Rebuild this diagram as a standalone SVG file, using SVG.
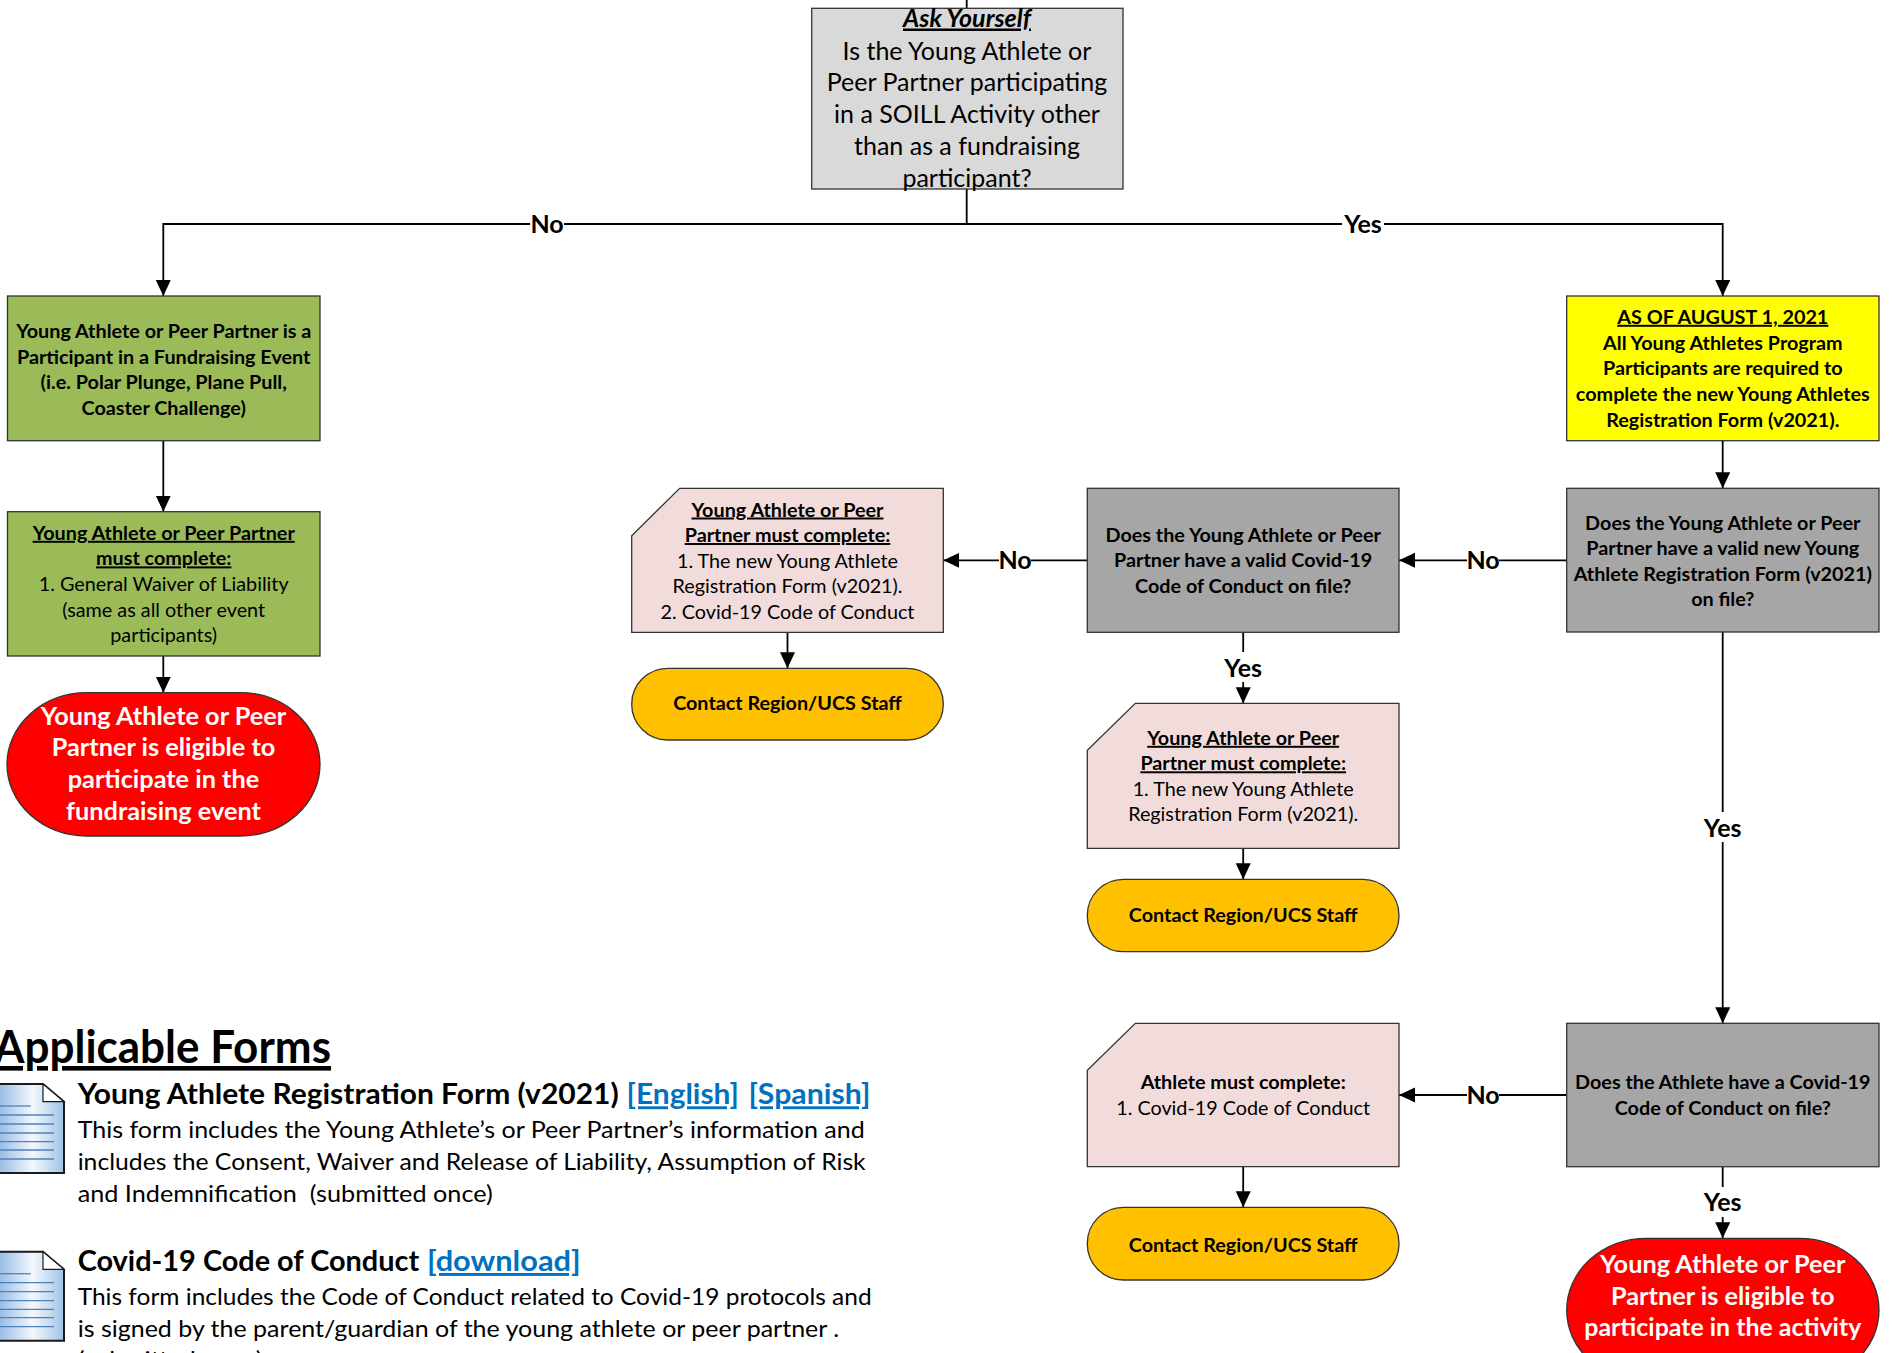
<svg xmlns="http://www.w3.org/2000/svg" width="1893" height="1353" viewBox="0 0 1893 1353">
<defs>
<style>
text{font-family:Lato,"Open Sans","Liberation Sans",sans-serif;fill:#000;text-anchor:middle}
.box{stroke:#333;stroke-width:1.3}
.b{font-weight:bold;font-size:19.8px}
.r{font-size:19.8px}
.u{text-decoration:underline}
.q{font-size:25px}
.w{fill:#fff;font-weight:bold;font-size:25.3px}
.lbl{font-weight:bold;font-size:25px}
.ln{stroke:#000;stroke-width:1.8;fill:none}
.ar{marker-end:url(#ah)}
.lb{fill:#fff}
.fl{text-anchor:start}
.link{fill:#0070C0;text-decoration:underline;font-weight:bold}
.il{stroke:#4F81BD;stroke-width:1.3}
</style>
<marker id="ah" markerUnits="userSpaceOnUse" markerWidth="17" markerHeight="16" refX="16" refY="7.5" orient="auto">
<path d="M0,0 L16,7.5 L0,15 Z" fill="#000"/>
</marker>
<linearGradient id="ig" x1="0" y1="0" x2="1" y2="0">
<stop offset="0" stop-color="#8DB4E2"/>
<stop offset="0.55" stop-color="#F4F8FC"/>
<stop offset="1" stop-color="#9DC3E6"/>
</linearGradient>
</defs>

<g id="connectors">
<line class="ln" x1="966.7" y1="0" x2="966.7" y2="8.3"/>
<line class="ln" x1="966.7" y1="189" x2="966.7" y2="224"/>
<line class="ln" x1="163.3" y1="224" x2="1722.7" y2="224"/>
<line class="ln ar" x1="163.3" y1="223" x2="163.3" y2="296"/>
<line class="ln ar" x1="1722.7" y1="223" x2="1722.7" y2="296"/>
<line class="ln ar" x1="163.3" y1="440.7" x2="163.3" y2="511.7"/>
<line class="ln ar" x1="163.3" y1="656" x2="163.3" y2="692.7"/>
<line class="ln ar" x1="1722.7" y1="440.7" x2="1722.7" y2="488.3"/>
<line class="ln ar" x1="1566.7" y1="560.3" x2="1399" y2="560.3"/>
<line class="ln ar" x1="1087.3" y1="560.3" x2="943.3" y2="560.3"/>
<line class="ln ar" x1="1243.2" y1="632.3" x2="1243.2" y2="703.3"/>
<line class="ln ar" x1="787.5" y1="632.3" x2="787.5" y2="668.3"/>
<line class="ln ar" x1="1243.2" y1="848.3" x2="1243.2" y2="879.3"/>
<line class="ln ar" x1="1722.7" y1="632" x2="1722.7" y2="1023.3"/>
<line class="ln ar" x1="1566.7" y1="1095" x2="1399" y2="1095"/>
<line class="ln ar" x1="1243.2" y1="1166.7" x2="1243.2" y2="1207.3"/>
<line class="ln ar" x1="1722.7" y1="1166.7" x2="1722.7" y2="1238.3"/>
<g id="labels">
<rect class="lb" x="530" y="210" width="34" height="28"/>
<text class="lbl" x="547" y="232.5">No</text>
<rect class="lb" x="1342" y="210" width="42" height="28"/>
<text class="lbl" x="1363" y="232.5">Yes</text>
<rect class="lb" x="1467" y="546" width="32" height="28"/>
<text class="lbl" x="1483" y="569">No</text>
<rect class="lb" x="999" y="546" width="32" height="28"/>
<text class="lbl" x="1015" y="569">No</text>
<rect class="lb" x="1222" y="652" width="42" height="30"/>
<text class="lbl" x="1243.2" y="676.5">Yes</text>
<rect class="lb" x="1701" y="812" width="44" height="30"/>
<text class="lbl" x="1722.7" y="836.5">Yes</text>
<rect class="lb" x="1467" y="1081" width="32" height="28"/>
<text class="lbl" x="1483" y="1103.5">No</text>
<rect class="lb" x="1701" y="1187" width="44" height="30"/>
<text class="lbl" x="1722.7" y="1211">Yes</text>
</g>
</g>

<g id="q-top">
<rect class="box" x="811.7" y="8.3" width="311.3" height="180.7" fill="#D9D9D9"/>
<text class="q u" x="967" y="26.5" font-weight="bold" font-style="italic">Ask Yourself</text>
<text class="q" x="967" y="59.7">Is the Young Athlete or</text>
<text class="q" x="967" y="91.3">Peer Partner participating</text>
<text class="q" x="967" y="123">in a SOILL Activity other</text>
<text class="q" x="967" y="154.7">than as a fundraising</text>
<text class="q" x="967" y="187">participant?</text>
</g>

<g id="fundraising">
<rect class="box" x="7.5" y="296" width="312.5" height="144.7" fill="#9BBB59"/>
<text class="b" x="163.7" y="338">Young Athlete or Peer Partner is a</text>
<text class="b" x="163.7" y="363.6">Participant in a Fundraising Event</text>
<text class="b" x="163.7" y="389.2">(i.e. Polar Plunge, Plane Pull,</text>
<text class="b" x="163.7" y="414.8">Coaster Challenge)</text>
</g>

<g id="waiver">
<rect class="box" x="7.5" y="511.7" width="312.5" height="144.3" fill="#9BBB59"/>
<text class="b u" x="163.7" y="539.8">Young Athlete or Peer Partner</text>
<text class="b u" x="163.7" y="565.4">must complete:</text>
<text class="r" x="163.7" y="591">1. General Waiver of Liability</text>
<text class="r" x="163.7" y="616.6">(same as all other event</text>
<text class="r" x="163.7" y="642.2">participants)</text>
</g>

<g id="eligible-fundraising">
<rect class="box" x="7" y="692.7" width="313" height="143.3" rx="80" ry="71.6" fill="#FF0000"/>
<text class="w" x="163.5" y="724.7">Young Athlete or Peer</text>
<text class="w" x="163.5" y="756.3">Partner is eligible to</text>
<text class="w" x="163.5" y="788">participate in the</text>
<text class="w" x="163.5" y="819.7">fundraising event</text>
</g>

<g id="august">
<rect class="box" x="1566.7" y="296" width="312.3" height="144.7" fill="#FFFF00"/>
<text class="b u" x="1722.8" y="323.8">AS OF AUGUST 1, 2021</text>
<text class="b" x="1722.8" y="349.5">All Young Athletes Program</text>
<text class="b" x="1722.8" y="375.2">Participants are required to</text>
<text class="b" x="1722.8" y="400.9">complete the new Young Athletes</text>
<text class="b" x="1722.8" y="426.6">Registration Form (v2021).</text>
</g>

<g id="q-registration">
<rect class="box" x="1566.7" y="488.3" width="312.3" height="143.7" fill="#A6A6A6"/>
<text class="b" x="1722.8" y="529.8">Does the Young Athlete or Peer</text>
<text class="b" x="1722.8" y="555.2">Partner have a valid new Young</text>
<text class="b" x="1722.8" y="580.6">Athlete Registration Form (v2021)</text>
<text class="b" x="1722.8" y="606">on file?</text>
</g>

<g id="q-covid-1">
<rect class="box" x="1087.3" y="488.3" width="311.7" height="144" fill="#A6A6A6"/>
<text class="b" x="1243.2" y="541.5">Does the Young Athlete or Peer</text>
<text class="b" x="1243.2" y="567.2">Partner have a valid Covid-19</text>
<text class="b" x="1243.2" y="592.9">Code of Conduct on file?</text>
</g>

<g id="complete-both">
<path class="box" d="M679.7,488.3 L943.3,488.3 L943.3,632.3 L631.7,632.3 L631.7,535.7 Z" fill="#F2DCDB"/>
<text class="b u" x="787.5" y="516.5">Young Athlete or Peer</text>
<text class="b u" x="787.5" y="542">Partner must complete:</text>
<text class="r" x="787.5" y="567.5">1. The new Young Athlete</text>
<text class="r" x="787.5" y="593">Registration Form (v2021).</text>
<text class="r" x="787.5" y="618.5">2. Covid-19 Code of Conduct</text>
</g>

<g id="contact-1">
<rect class="box" x="631.7" y="668.3" width="311.6" height="71.7" rx="36" fill="#FFC000"/>
<text class="b" x="787.5" y="710">Contact Region/UCS Staff</text>
</g>

<g id="complete-registration">
<path class="box" d="M1135.3,703.3 L1399,703.3 L1399,848.3 L1087.3,848.3 L1087.3,750.3 Z" fill="#F2DCDB"/>
<text class="b u" x="1243.2" y="744.8">Young Athlete or Peer</text>
<text class="b u" x="1243.2" y="770.3">Partner must complete:</text>
<text class="r" x="1243.2" y="795.8">1. The new Young Athlete</text>
<text class="r" x="1243.2" y="821.3">Registration Form (v2021).</text>
</g>

<g id="contact-2">
<rect class="box" x="1087.3" y="879.3" width="311.7" height="72.4" rx="36" fill="#FFC000"/>
<text class="b" x="1243.2" y="921.5">Contact Region/UCS Staff</text>
</g>

<g id="q-covid-2">
<rect class="box" x="1566.7" y="1023.3" width="312.3" height="143.4" fill="#A6A6A6"/>
<text class="b" x="1722.8" y="1089.2">Does the Athlete have a Covid-19</text>
<text class="b" x="1722.8" y="1114.8">Code of Conduct on file?</text>
</g>

<g id="complete-covid">
<path class="box" d="M1135.3,1023.3 L1399,1023.3 L1399,1166.7 L1087.3,1166.7 L1087.3,1070.3 Z" fill="#F2DCDB"/>
<text class="b" x="1243.2" y="1089.2">Athlete must complete:</text>
<text class="r" x="1243.2" y="1114.8">1. Covid-19 Code of Conduct</text>
</g>

<g id="contact-3">
<rect class="box" x="1087.3" y="1207.3" width="311.7" height="72.7" rx="36" fill="#FFC000"/>
<text class="b" x="1243.2" y="1251.5">Contact Region/UCS Staff</text>
</g>

<g id="eligible-activity">
<rect class="box" x="1566.7" y="1238.3" width="312.3" height="143.7" rx="80" ry="71.8" fill="#FF0000"/>
<text class="w" x="1722.8" y="1273">Young Athlete or Peer</text>
<text class="w" x="1722.8" y="1304.7">Partner is eligible to</text>
<text class="w" x="1722.8" y="1336.3" textLength="277" lengthAdjust="spacingAndGlyphs">participate in the activity</text>
</g>

<g id="applicable-forms">
<text class="fl u" x="-6" y="1063" font-size="46" font-weight="bold" textLength="337" lengthAdjust="spacingAndGlyphs">Applicable Forms</text>
<g id="icon-1">
<path d="M-5,1084 L43,1084 L64,1101.7 L64,1173 L-5,1173 Z" fill="url(#ig)" stroke="#1a1a1a" stroke-width="2"/>
<path d="M43,1084 L43,1101.7 L64,1101.7 Z" fill="#fff" stroke="#1a1a1a" stroke-width="1.2"/>
<line class="il" x1="0" y1="1106" x2="30.7" y2="1106"/>
<line class="il" x1="0" y1="1115" x2="54" y2="1115"/>
<line class="il" x1="0" y1="1124" x2="54" y2="1124"/>
<line class="il" x1="0" y1="1133" x2="54" y2="1133"/>
<line class="il" x1="0" y1="1141.7" x2="54" y2="1141.7"/>
<line class="il" x1="0" y1="1150" x2="54" y2="1150"/>
<line class="il" x1="0" y1="1159" x2="54" y2="1159"/>
</g>
<text class="fl" x="77.7" y="1104.3" font-size="29" font-weight="bold" textLength="541" lengthAdjust="spacingAndGlyphs">Young Athlete Registration Form (v2021)</text>
<text class="fl link" x="626.6" y="1104.3" font-size="29" textLength="112.4" lengthAdjust="spacingAndGlyphs">[English]</text>
<text class="fl link" x="748.5" y="1104.3" font-size="29" textLength="122" lengthAdjust="spacingAndGlyphs">[Spanish]</text>
<text class="fl" x="77.7" y="1137.7" font-size="24" textLength="787" lengthAdjust="spacingAndGlyphs">This form includes the Young Athlete’s or Peer Partner’s information and</text>
<text class="fl" x="77.7" y="1169.7" font-size="24" textLength="788" lengthAdjust="spacingAndGlyphs">includes the Consent, Waiver and Release of Liability, Assumption of Risk</text>
<text class="fl" x="77.7" y="1201.5" font-size="24" textLength="415" lengthAdjust="spacingAndGlyphs">and Indemnification &#160;(submitted once)</text>
<g id="icon-2">
<path d="M-5,1251.7 L43,1251.7 L64,1269.4 L64,1340.7 L-5,1340.7 Z" fill="url(#ig)" stroke="#1a1a1a" stroke-width="2"/>
<path d="M43,1251.7 L43,1269.4 L64,1269.4 Z" fill="#fff" stroke="#1a1a1a" stroke-width="1.2"/>
<line class="il" x1="0" y1="1273.7" x2="30.7" y2="1273.7"/>
<line class="il" x1="0" y1="1282.7" x2="54" y2="1282.7"/>
<line class="il" x1="0" y1="1291.7" x2="54" y2="1291.7"/>
<line class="il" x1="0" y1="1300.7" x2="54" y2="1300.7"/>
<line class="il" x1="0" y1="1309.4" x2="54" y2="1309.4"/>
<line class="il" x1="0" y1="1317.7" x2="54" y2="1317.7"/>
<line class="il" x1="0" y1="1326.7" x2="54" y2="1326.7"/>
</g>
<text class="fl" x="77.7" y="1271" font-size="29" font-weight="bold" textLength="341.5" lengthAdjust="spacingAndGlyphs">Covid-19 Code of Conduct</text>
<text class="fl link" x="427" y="1271" font-size="29" textLength="153.7" lengthAdjust="spacingAndGlyphs">[download]</text>
<text class="fl" x="77.7" y="1305" font-size="24" textLength="794" lengthAdjust="spacingAndGlyphs">This form includes the Code of Conduct related to Covid-19 protocols and</text>
<text class="fl" x="77.7" y="1336.5" font-size="24" textLength="761.5" lengthAdjust="spacingAndGlyphs">is signed by the parent/guardian of the young athlete or peer partner .</text>
<text class="fl" x="77.7" y="1368" font-size="24" textLength="185" lengthAdjust="spacingAndGlyphs">(submitted once)</text>
</g>
</svg>
